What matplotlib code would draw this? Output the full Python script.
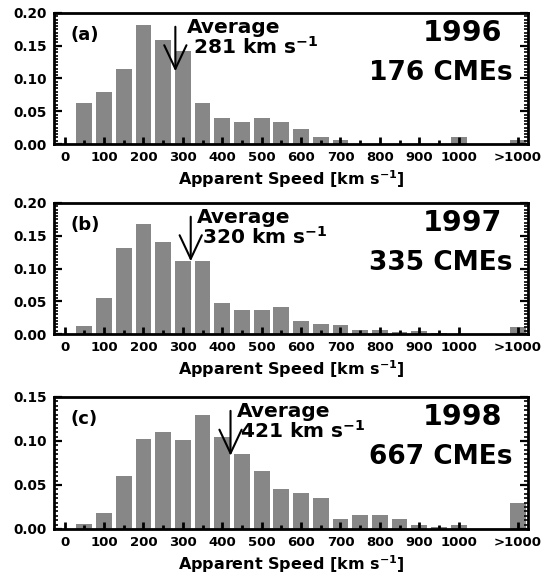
import matplotlib
matplotlib.use("Agg")
import matplotlib.pyplot as plt
from matplotlib.ticker import MultipleLocator, FixedLocator

plt.rcParams['font.family'] = ['DejaVu Sans']
plt.rcParams['font.weight'] = 'bold'
plt.rcParams['mathtext.default'] = 'bf'

# ---- data ----
speed_bins = [0, 50, 100, 150, 200, 250, 300, 350, 400, 450, 500,
              550, 600, 650, 700, 750, 800, 850, 900, 950, 1000, 1150]
tick_values = [0, 100, 200, 300, 400, 500, 600, 700, 800, 900, 1000, 1150]
tick_labels = ['0', '100', '200', '300', '400', '500', '600', '700',
               '800', '900', '1000', '>1000']

frac_1996 = [0.0, 0.063, 0.080, 0.114, 0.182, 0.159, 0.142, 0.063, 0.040, 0.034, 0.040,
             0.034, 0.023, 0.011, 0.006, 0.0, 0.0, 0.0, 0.0, 0.0, 0.011, 0.006]
frac_1997 = [0.0, 0.012, 0.055, 0.132, 0.168, 0.140, 0.111, 0.112, 0.048, 0.037, 0.037,
             0.041, 0.020, 0.016, 0.013, 0.006, 0.006, 0.003, 0.004, 0.002, 0.0, 0.010]
frac_1998 = [0.0, 0.006, 0.018, 0.060, 0.102, 0.110, 0.101, 0.130, 0.104, 0.085, 0.066,
             0.045, 0.041, 0.035, 0.011, 0.016, 0.016, 0.011, 0.005, 0.002, 0.005, 0.029]

years = ['1996', '1997', '1998']
cme_counts = [176, 335, 667]
avg_speeds = [281, 320, 421]
panel_tags = ['(a)', '(b)', '(c)']
series = [frac_1996, frac_1997, frac_1998]
y_tops = [0.20, 0.20, 0.15]

# ---- layout ----
fig = plt.figure(figsize=(5.5, 5.76), dpi=100)
W, H = 550, 576
panels_px = [(13, 144), (203, 334), (397, 529)]   # top, bottom in pixels
left_px, right_px = 54, 528
avg_dx = [29, 15, 16]
num_dx = [45, 28, 24]

bar_color = '#878787'

for i in range(3):
    top, bot = panels_px[i]
    ax = fig.add_axes([left_px / W, 1 - bot / H, (right_px - left_px) / W, (bot - top) / H])
    ax.bar(speed_bins, series[i], width=40, color=bar_color, edgecolor='none', zorder=1)
    ax.set_xlim(-27, 1176)
    ax.set_ylim(0, y_tops[i])

    for sp in ax.spines.values():
        sp.set_linewidth(2.0)
        sp.set_zorder(5)

    ax.xaxis.set_major_locator(FixedLocator(tick_values))
    ax.set_xticklabels(tick_labels)
    ax.xaxis.set_minor_locator(FixedLocator([v for v in speed_bins if v not in tick_values]))
    ax.yaxis.set_major_locator(MultipleLocator(0.05))
    ax.yaxis.set_minor_locator(MultipleLocator(0.005))
    ax.yaxis.set_major_formatter(matplotlib.ticker.FormatStrFormatter('%.2f'))

    ax.tick_params(axis='x', which='both', direction='in', top=False, bottom=True,
                   labelsize=9.5, pad=5)
    ax.tick_params(axis='x', which='major', length=5, width=2)
    ax.tick_params(axis='x', which='minor', length=3, width=2)
    ax.tick_params(axis='y', which='both', direction='in', left=True, right=True,
                   labelsize=9.8, pad=5)
    ax.tick_params(axis='y', which='major', length=6, width=1.6)
    ax.tick_params(axis='y', which='minor', length=3, width=1.2)
    for lab in ax.get_xticklabels() + ax.get_yticklabels():
        lab.set_fontweight('bold')

    ax.set_xlabel('Apparent Speed [km s$^{-1}$]', fontsize=11.5, fontweight='bold', labelpad=3)

    tr = ax.get_xaxis_transform()
    ax.annotate('', xy=(avg_speeds[i], 0.555), xytext=(avg_speeds[i], 0.895),
                xycoords=tr, textcoords=tr,
                arrowprops=dict(arrowstyle='->,head_length=1.7,head_width=0.8',
                                lw=1.5, color='black', mutation_scale=10,
                                shrinkA=0, shrinkB=0), zorder=6)
    ax.text(avg_speeds[i] + avg_dx[i], 0.848, 'Average', transform=tr,
            ha='left', va='baseline', fontsize=14.5, fontweight='bold', zorder=6)
    ax.text(avg_speeds[i] + num_dx[i], 0.692, f'{avg_speeds[i]} km s$^{{-1}}$', transform=tr,
            ha='left', va='baseline', fontsize=14.5, fontweight='bold', zorder=6)

    ax.text(0.034, 0.832, panel_tags[i], transform=ax.transAxes, ha='left', va='center',
            fontsize=13, fontweight='bold')
    ax.text(0.945, 0.851, years[i], transform=ax.transAxes, ha='right', va='center',
            fontsize=20.5, fontweight='bold')
    ax.text(0.968, 0.542, f'{cme_counts[i]} CMEs', transform=ax.transAxes, ha='right',
            va='center', fontsize=19, fontweight='bold')

fig.savefig('out.png', dpi=100)
